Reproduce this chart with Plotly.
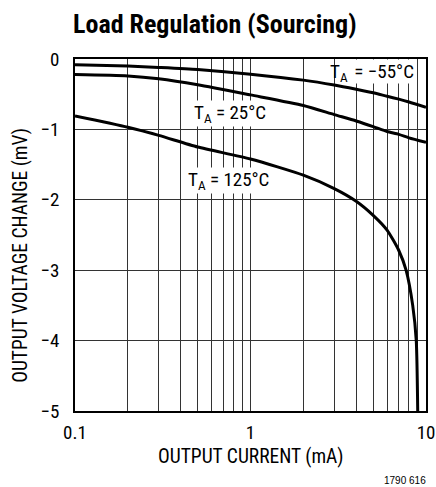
import plotly.graph_objects as go

# Data (x: output current mA, y: output voltage change mV)
x_m55 = [0.1, 0.2, 0.3, 0.5, 1, 2, 3, 4, 5, 6, 7, 8, 10]
y_m55 = [-0.08, -0.10, -0.12, -0.15, -0.215, -0.30, -0.37, -0.43, -0.48, -0.53, -0.57, -0.61, -0.685]

x_25 = [0.1, 0.2, 0.3, 0.5, 1, 2, 3, 4, 5, 6, 7, 8, 10]
y_25 = [-0.22, -0.24, -0.28, -0.365, -0.51, -0.66, -0.79, -0.88, -0.96, -1.03, -1.07, -1.12, -1.185]

x_125 = [0.1, 0.2, 0.3, 0.5, 1, 2, 3, 4, 5, 6, 7, 7.7, 8.4, 8.8, 8.97]
y_125 = [-0.81, -0.97, -1.085, -1.25, -1.42, -1.65, -1.84, -2.02, -2.22, -2.43, -2.72, -3.0, -3.5, -4.0, -5.0]

x_tickvals = [0.1, 0.2, 0.3, 0.4, 0.5, 0.6, 0.7, 0.8, 0.9, 1, 2, 3, 4, 5, 6, 7, 8, 9, 10]
x_ticktext = ["0.1"] + [""] * 8 + ["1"] + [""] * 8 + ["10"]
y_tickvals = [0, -1, -2, -3, -4, -5]
y_ticktext = ["0", "\u22121", "\u22122", "\u22123", "\u22124", "\u22125"]

label_m55 = ("T<sub>A</sub>", " = \u221255\u00b0C")
labels_other = ["T<sub>A</sub> = 25\u00b0C", "T<sub>A</sub> = 125\u00b0C"]

FONT = "Liberation Sans Narrow, Roboto Condensed, Arial Narrow, Roboto, sans-serif"

# plot area in pixels
L, R, T, B = 74.5, 426.5, 58.6, 411.0
W, H = R - L, B - T


def px(xp):
    return (xp - L) / W


def py(yp):
    return 1 - (yp - T) / H


fig = go.Figure()
for xs, ys in [(x_m55, y_m55), (x_25, y_25), (x_125, y_125)]:
    fig.add_trace(go.Scatter(x=xs, y=ys, mode="lines",
                             line=dict(color="black", width=3, shape="spline", smoothing=0.6),
                             showlegend=False, hoverinfo="skip"))

fig.update_layout(
    width=436, height=487,
    margin=dict(l=L, r=436 - R, t=T, b=487 - B, autoexpand=False),
    paper_bgcolor="white", plot_bgcolor="white",
    font=dict(family=FONT, color="black", size=19),
    xaxis=dict(type="log", range=[-1, 1], tickvals=x_tickvals, ticktext=x_ticktext,
               showgrid=True, gridcolor="#333", gridwidth=1, automargin=False,
               showline=True, linecolor="black", linewidth=1.5, mirror=True,
               ticks="", zeroline=False, ticklabelstandoff=3, tickfont=dict(size=19, family=FONT)),
    yaxis=dict(range=[-5, 0], tickvals=y_tickvals, ticktext=y_ticktext,
               showgrid=True, gridcolor="#333", gridwidth=1, automargin=False,
               showline=True, linecolor="black", linewidth=1.5, mirror=True,
               ticks="", zeroline=False, ticklabelstandoff=10, tickfont=dict(size=19, family=FONT)),
)

ann = [
    dict(text="<b>Load Regulation (Sourcing)</b>", x=215, y=24, size=26, family=FONT, angle=0),
    dict(text="OUTPUT CURRENT (mA)", x=251, y=457, size=19.5, family=FONT, angle=0),
    dict(text="1790 616", x=405, y=481, size=10, family="Liberation Sans, Arial, sans-serif", angle=0),
    dict(text="OUTPUT VOLTAGE CHANGE (mV)", x=20, y=255, size=19.5, family=FONT, angle=-90),
]
for a in ann:
    fig.add_annotation(text=a["text"], xref="paper", yref="paper",
                       x=px(a["x"]), y=py(a["y"]),
                       xanchor="center", yanchor="middle", showarrow=False,
                       font=dict(family=a["family"], size=a["size"], color="black"),
                       textangle=a["angle"])

# -55 C label: split so the white backing only sits where the curve does not pass
fig.add_annotation(text=label_m55[0], x=px(349), y=py(59), xref="paper", yref="paper",
                   xanchor="right", yanchor="top", showarrow=False, borderpad=0,
                   font=dict(family=FONT, size=19, color="black"))
fig.add_annotation(text=label_m55[1], x=px(349), y=py(59), xref="paper", yref="paper",
                   xanchor="left", yanchor="top", showarrow=False, borderpad=0, bgcolor="white",
                   font=dict(family=FONT, size=19, color="black"))

label_centres = [(230, 113), (228, 180)]
for t, (cx, cy) in zip(labels_other, label_centres):
    fig.add_annotation(text=t, x=px(cx), y=py(cy), xref="paper", yref="paper", showarrow=False,
                       xanchor="center", yanchor="middle", bgcolor="white", borderpad=0,
                       font=dict(family=FONT, size=19, color="black"))

fig.write_html("out.html", config={"displayModeBar": False},
               post_script="document.body.style.margin='0';document.body.style.padding='0';")
